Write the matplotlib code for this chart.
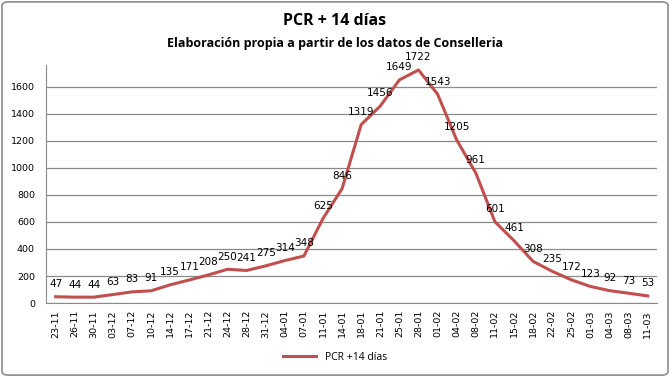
import matplotlib.pyplot as plt
from matplotlib.patches import FancyBboxPatch

# PCR + 14 dias
fechas = ["23-11", "26-11", "30-11", "03-12", "07-12", "10-12", "14-12", "17-12",
          "21-12", "24-12", "28-12", "31-12", "04-01", "07-01", "11-01", "14-01",
          "18-01", "21-01", "25-01", "28-01", "01-02", "04-02", "08-02", "11-02",
          "15-02", "18-02", "22-02", "25-02", "01-03", "04-03", "08-03", "11-03"]
pcr14 = [47, 44, 44, 63, 83, 91, 135, 171, 208, 250, 241, 275, 314, 348, 625, 846,
         1319, 1456, 1649, 1722, 1543, 1205, 961, 601, 461, 308, 235, 172, 123, 92, 73, 53]
yticks = [0, 200, 400, 600, 800, 1000, 1200, 1400, 1600]

fig = plt.figure(figsize=(6.7, 3.77), dpi=100)
ax = fig.add_axes([0.0687, 0.196, 0.9123, 0.632])

# marco exterior gris
fig.patches.append(FancyBboxPatch((0.003, 0.005), 0.994, 0.99, boxstyle="round,pad=0,rounding_size=0.01",
                                  transform=fig.transFigure, fill=False, edgecolor="#8c8c8c", linewidth=1.2))

x = list(range(len(fechas)))
ax.plot(x, pcr14, color="#C0504D", linewidth=2.2, label="PCR +14 días", zorder=3)
for i, v in zip(x, pcr14):
    ax.annotate(str(v), (i, v), xytext=(0, 5.5), textcoords="offset points",
                ha="center", va="bottom", fontsize=7.5, color="black", zorder=4)

ax.set_xlim(-0.5, len(fechas) - 0.5)
ax.set_ylim(0, 1760)
ax.set_yticks(yticks)
ax.set_xticks(x)
ax.set_xticklabels(fechas, rotation=90, fontsize=6.8)
ax.tick_params(axis="y", labelsize=6.8, length=0, pad=8)
ax.tick_params(axis="x", length=0, pad=5)
ax.grid(axis="y", color="#8a8a8a", linewidth=0.9)
ax.set_axisbelow(True)
for s in ["top", "right"]:
    ax.spines[s].set_visible(False)
ax.spines["left"].set_color("#8a8a8a")
ax.spines["bottom"].set_color("#8a8a8a")

fig.text(0.5, 0.935, "PCR + 14 días", ha="center", fontsize=11.5, fontweight="bold",
         family="Open Sans")
fig.text(0.5, 0.875, "Elaboración propia a partir de los datos de Conselleria", ha="center",
         fontsize=9, fontweight="bold", family="Open Sans")

fig.legend(loc="center", bbox_to_anchor=(0.5, 0.052), frameon=False,
           handlelength=3.2, prop={"family": "Open Sans", "size": 7.5})

fig.savefig("out.png", dpi=100)
